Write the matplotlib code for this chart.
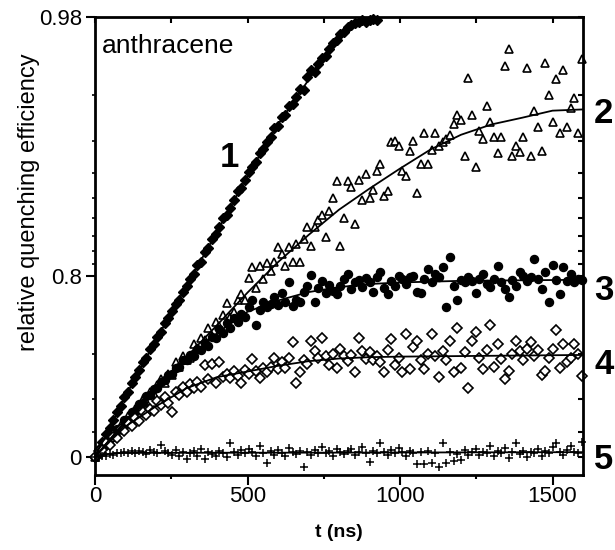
import numpy as np
import matplotlib
matplotlib.use("Agg")
import matplotlib.pyplot as plt
from matplotlib.ticker import FixedLocator, MultipleLocator, NullFormatter

plt.rcParams["font.family"] = ["Liberation Sans", "DejaVu Sans"]

# sampling times (ns)
t_ns = [
    0, 12, 24, 36, 48, 60, 72, 84, 96, 108,
    120, 132, 144, 156, 168, 180, 192, 204, 216, 228,
    240, 252, 264, 276, 288, 300, 312, 324, 336, 348,
    360, 372, 384, 396, 408, 420, 432, 444, 456, 468,
    480, 492, 504, 516, 528, 540, 552, 564, 576, 588,
    600, 612, 624, 636, 648, 660, 672, 684, 696, 708,
    720, 732, 744, 756, 768, 780, 792, 804, 816, 828,
    840, 852, 864, 876, 888, 900, 912, 924, 936, 948,
    960, 972, 984, 996, 1008, 1020, 1032, 1044, 1056, 1068,
    1080, 1092, 1104, 1116, 1128, 1140, 1152, 1164, 1176, 1188,
    1200, 1212, 1224, 1236, 1248, 1260, 1272, 1284, 1296, 1308,
    1320, 1332, 1344, 1356, 1368, 1380, 1392, 1404, 1416, 1428,
    1440, 1452, 1464, 1476, 1488, 1500, 1512, 1524, 1536, 1548,
    1560, 1572, 1584, 1596,
]

# relative quenching efficiency, curve 1 (filled diamonds, up to 924 ns)
eff_1 = [
    0.000, 0.068, 0.122, 0.181, 0.229, 0.281, 0.330, 0.362, 0.411, 0.440,
    0.483, 0.508, 0.537, 0.568, 0.585, 0.617, 0.632, 0.657, 0.670, 0.696,
    0.708, 0.727, 0.743, 0.753, 0.770, 0.781, 0.794, 0.804, 0.819, 0.824,
    0.838, 0.844, 0.856, 0.862, 0.870, 0.880, 0.884, 0.891, 0.898, 0.906,
    0.9084, 0.9146, 0.9203, 0.9242, 0.9272, 0.9328, 0.9354, 0.9392, 0.9416, 0.9461,
    0.9471, 0.9512, 0.9522, 0.9558, 0.9567, 0.9592, 0.9620, 0.9616, 0.9660, 0.9679,
    0.9673, 0.9695, 0.9713, 0.9718, 0.9735, 0.9748, 0.9755, 0.9767, 0.9772, 0.9781,
    0.9785, 0.9789, 0.9791, 0.9794, 0.9791, 0.9794, 0.9796, 0.9794,
]

# curve 2 (open triangles)
eff_2 = [
    0.000, 0.049, 0.058, 0.122, 0.131, 0.189, 0.181, 0.244, 0.252, 0.302,
    0.295, 0.349, 0.343, 0.400, 0.393, 0.440, 0.429, 0.473, 0.498, 0.483,
    0.523, 0.518, 0.568, 0.551, 0.593, 0.577, 0.585, 0.632, 0.621, 0.653,
    0.647, 0.683, 0.660, 0.699, 0.687, 0.716, 0.746, 0.713, 0.725, 0.753,
    0.765, 0.753, 0.796, 0.815, 0.777, 0.817, 0.794, 0.821, 0.808, 0.824,
    0.846, 0.835, 0.817, 0.846, 0.823, 0.849, 0.824, 0.856, 0.871, 0.847,
    0.870, 0.878, 0.884, 0.858, 0.888, 0.900, 0.914, 0.847, 0.881, 0.914,
    0.909, 0.874, 0.915, 0.898, 0.919, 0.900, 0.907, 0.921, 0.926, 0.902,
    0.906, 0.939, 0.940, 0.937, 0.921, 0.918, 0.934, 0.940, 0.904, 0.926,
    0.944, 0.926, 0.935, 0.944, 0.937, 0.939, 0.941, 0.943, 0.948, 0.952,
    0.950, 0.931, 0.9656, 0.952, 0.924, 0.945, 0.941, 0.956, 0.949, 0.942,
    0.933, 0.942, 0.9692, 0.9735, 0.931, 0.937, 0.9335, 0.942, 0.9686, 0.931,
    0.954, 0.947, 0.934, 0.9698, 0.960, 0.949, 0.9653, 0.944, 0.9679, 0.947,
    0.955, 0.959, 0.944, 0.971,
]

# curve 3 (filled circles)
eff_3 = [
    0.000, 0.030, 0.086, 0.104, 0.156, 0.165, 0.221, 0.229, 0.281, 0.281,
    0.330, 0.336, 0.375, 0.381, 0.417, 0.423, 0.451, 0.457, 0.488, 0.493,
    0.518, 0.523, 0.546, 0.551, 0.577, 0.577, 0.597, 0.593, 0.617, 0.613,
    0.636, 0.628, 0.657, 0.654, 0.680, 0.667, 0.696, 0.683, 0.708, 0.699,
    0.719, 0.713, 0.736, 0.753, 0.690, 0.730, 0.748, 0.736, 0.743, 0.758,
    0.741, 0.768, 0.748, 0.788, 0.738, 0.753, 0.748, 0.770, 0.781, 0.802,
    0.748, 0.777, 0.790, 0.768, 0.783, 0.772, 0.765, 0.781, 0.794, 0.804,
    0.775, 0.788, 0.792, 0.779, 0.796, 0.788, 0.770, 0.798, 0.806, 0.777,
    0.765, 0.790, 0.781, 0.800, 0.794, 0.786, 0.798, 0.800, 0.770, 0.768,
    0.794, 0.812, 0.788, 0.804, 0.798, 0.815, 0.736, 0.831, 0.781, 0.753,
    0.792, 0.788, 0.798, 0.790, 0.768, 0.794, 0.803, 0.786, 0.779, 0.794,
    0.817, 0.788, 0.775, 0.758, 0.792, 0.781, 0.806, 0.800, 0.790, 0.798,
    0.828, 0.794, 0.775, 0.806, 0.748, 0.819, 0.792, 0.765, 0.815, 0.790,
    0.803, 0.788, 0.794, 0.792,
]

# curve 4 (open diamonds)
eff_4 = [
    0.000, 0.049, 0.058, 0.113, 0.104, 0.165, 0.156, 0.221, 0.205, 0.259,
    0.237, 0.295, 0.274, 0.330, 0.309, 0.349, 0.336, 0.393, 0.369, 0.411,
    0.381, 0.330, 0.440, 0.423, 0.462, 0.440, 0.478, 0.457, 0.488, 0.462,
    0.560, 0.498, 0.564, 0.483, 0.568, 0.508, 0.523, 0.503, 0.532, 0.513,
    0.483, 0.537, 0.523, 0.581, 0.532, 0.503, 0.546, 0.528, 0.551, 0.585,
    0.542, 0.568, 0.546, 0.585, 0.639, 0.483, 0.528, 0.577, 0.564, 0.643,
    0.609, 0.585, 0.654, 0.593, 0.560, 0.601, 0.546, 0.617, 0.593, 0.573,
    0.597, 0.528, 0.654, 0.609, 0.581, 0.605, 0.577, 0.593, 0.568, 0.528,
    0.613, 0.648, 0.560, 0.585, 0.528, 0.664, 0.542, 0.625, 0.643, 0.577,
    0.542, 0.601, 0.664, 0.593, 0.508, 0.609, 0.577, 0.643, 0.528, 0.683,
    0.546, 0.605, 0.460, 0.643, 0.670, 0.585, 0.542, 0.613, 0.690, 0.551,
    0.632, 0.581, 0.498, 0.532, 0.601, 0.643, 0.609, 0.577, 0.617, 0.639,
    0.593, 0.613, 0.518, 0.532, 0.585, 0.617, 0.677, 0.546, 0.632, 0.568,
    0.585, 0.632, 0.601, 0.513,
]

# curve 5 (plus signs)
eff_5 = [
    0.000, -0.010, 0.012, 0.005, 0.028, 0.020, 0.038, 0.030, 0.045, 0.032,
    0.050, 0.038, 0.055, 0.040, 0.022, 0.060, 0.045, 0.030, 0.100, 0.048,
    0.035, 0.015, 0.058, 0.005, 0.040, -0.015, 0.030, 0.050, 0.010, 0.065,
    -0.020, 0.045, 0.025, 0.008, 0.055, 0.035, -0.005, 0.113, 0.040, 0.020,
    0.060, 0.030, 0.070, 0.045, 0.010, 0.095, 0.035, -0.060, 0.050, 0.020,
    0.062, 0.035, 0.005, 0.075, 0.040, 0.025, 0.055, -0.090, 0.045, 0.015,
    0.060, 0.035, 0.080, 0.030, 0.050, 0.010, 0.065, 0.040, 0.025, 0.055,
    0.070, 0.020, 0.045, 0.085, 0.030, -0.050, 0.055, 0.035, 0.113, 0.040,
    0.020, 0.060, 0.030, 0.075, 0.045, 0.010, 0.050, 0.030, -0.070, 0.040,
    -0.065, 0.055, -0.060, 0.035, -0.095, 0.113, -0.055, 0.045, -0.040, 0.025,
    -0.030, 0.060, 0.015, 0.040, 0.070, 0.020, 0.045, 0.030, 0.090, 0.010,
    0.050, 0.035, 0.075, -0.010, 0.040, 0.113, 0.025, 0.055, -0.005, 0.045,
    0.030, 0.065, 0.010, 0.050, 0.035, 0.080, 0.113, 0.040, 0.020, 0.060,
    0.095, 0.045, 0.030, 0.120,
]

# fitted curves
fit_t_1 = [0, 100, 200, 300, 400, 500, 600, 700, 800, 880]
fit_1 = [0, 0.417, 0.647, 0.781, 0.865, 0.918, 0.948, 0.965, 0.976, 0.980]
fit_t_2 = [0, 100, 200, 300, 400, 500, 600, 700, 800, 900, 1000, 1100, 1200, 1300, 1400, 1500, 1600]
fit_2 = [0, 0.267, 0.457, 0.589, 0.690, 0.768, 0.823, 0.861, 0.889, 0.908, 0.923, 0.935, 0.943,
         0.948, 0.951, 0.954, 0.9545]
fit_t_3 = [0, 100, 200, 300, 400, 500, 600, 700, 800, 900, 1000, 1200, 1400, 1600]
fit_3 = [0, 0.274, 0.457, 0.581, 0.667, 0.725, 0.751, 0.769, 0.779, 0.785, 0.788, 0.791, 0.792, 0.793]
fit_t_4 = [0, 50, 100, 200, 300, 400, 500, 600, 700, 800, 900, 1000, 1200, 1400, 1600]
fit_4 = [0, 0.131, 0.237, 0.362, 0.457, 0.508, 0.532, 0.555, 0.573, 0.583, 0.588, 0.590, 0.592,
         0.594, 0.596]
fit_t_5 = [0, 30, 60, 100, 400, 800, 1200, 1600]
fit_5 = [0, 0.020, 0.031, 0.035, 0.036, 0.037, 0.039, 0.041]

curve_names = ["2", "3", "4", "5"]
curve_label_y = [0.953, 0.772, 0.560, -0.020]

y_ticks = [0, 0.8, 0.98]
y_tick_labels = ["0", "0.8", "0.98"]
y_minor = [0.2, 0.4, 0.6, 0.82, 0.84, 0.86, 0.88, 0.9, 0.92, 0.94, 0.96]
x_ticks = [0, 500, 1000, 1500]


def to_log(q):
    q = np.asarray(q, dtype=float)
    with np.errstate(divide="ignore", invalid="ignore"):
        return -np.log(1.0 - q)


def from_log(u):
    return 1.0 - np.exp(-np.asarray(u, dtype=float))


fig = plt.figure(figsize=(6.15, 5.5), dpi=100)
ax = fig.add_axes([95 / 615, 75 / 550, 488 / 615, 458 / 550])
ax.set_yscale("function", functions=(to_log, from_log))
ax.set_xlim(0, 1600)
ax.set_ylim(-0.175, 0.98)

# data points
ax.plot(t_ns[:len(eff_1)], eff_1, ls="none", marker="D", ms=5, mfc="black", mec="black", clip_on=False)
ax.plot(t_ns, eff_2, ls="none", marker="^", ms=6, mfc="white", mec="black", mew=1.2, clip_on=False)
ax.plot(t_ns, eff_3, ls="none", marker="o", ms=5.8, mfc="black", mec="black", clip_on=False)
ax.plot(t_ns, eff_4, ls="none", marker="D", ms=5, mfc="white", mec="black", mew=1.2, clip_on=False)
ax.plot(t_ns, eff_5, ls="none", marker="+", ms=5.5, mec="black", mew=1.1, clip_on=False)

# fits
for ft, fv in [(fit_t_1, fit_1), (fit_t_2, fit_2), (fit_t_3, fit_3), (fit_t_4, fit_4), (fit_t_5, fit_5)]:
    ax.plot(ft, fv, color="black", lw=1.3, zorder=4)

for s in ax.spines.values():
    s.set_linewidth(2)

ax.set_xticks(x_ticks)
ax.xaxis.set_minor_locator(MultipleLocator(250))
ax.set_yticks(y_ticks, labels=y_tick_labels)
ax.yaxis.set_minor_locator(FixedLocator(y_minor))
ax.yaxis.set_minor_formatter(NullFormatter())
ax.tick_params(axis="x", which="major", direction="out", length=7, width=1.5, labelsize=16, pad=1)
ax.tick_params(axis="x", which="minor", direction="out", length=3, width=1.5)
ax.tick_params(axis="y", which="major", direction="out", length=6.5, width=1.5, labelsize=16, pad=3)
ax.tick_params(axis="y", which="minor", direction="out", length=2.5, width=1.2)

# inward ticks on top and right
axt = ax.twiny()
axt.set_xlim(0, 1600)
axt.xaxis.set_major_locator(MultipleLocator(250))
axt.tick_params(axis="x", direction="in", length=4.5, width=1.5, labeltop=False)
axr = ax.twinx()
axr.set_yscale("function", functions=(to_log, from_log))
axr.set_ylim(-0.175, 0.98)
axr.yaxis.set_major_locator(FixedLocator([0] + y_minor + [0.8, 0.98]))
axr.tick_params(axis="y", direction="in", length=3.5, width=1.5, labelright=False)
for a in (axt, axr):
    for s in a.spines.values():
        s.set_visible(False)

ax.set_xlabel("t (ns)", fontsize=14, fontweight="bold")
ax.xaxis.set_label_coords(0.5, -0.108)
ax.set_ylabel("relative quenching efficiency", fontsize=17)
ax.yaxis.set_label_coords(-0.113, 0.596)

ax.text(0.014, 0.921, "anthracene", transform=ax.transAxes, fontsize=19, va="baseline")
ax.text(440, 0.930, "1", fontsize=25, fontweight="bold", ha="center", va="center")
for name, ly in zip(curve_names, curve_label_y):
    ax.annotate(name, xy=(1, ly), xycoords=("axes fraction", "data"), xytext=(15, 0),
                textcoords="offset points", fontsize=25, fontweight="bold",
                ha="center", va="center", annotation_clip=False)

fig.savefig("out.png", dpi=100)
